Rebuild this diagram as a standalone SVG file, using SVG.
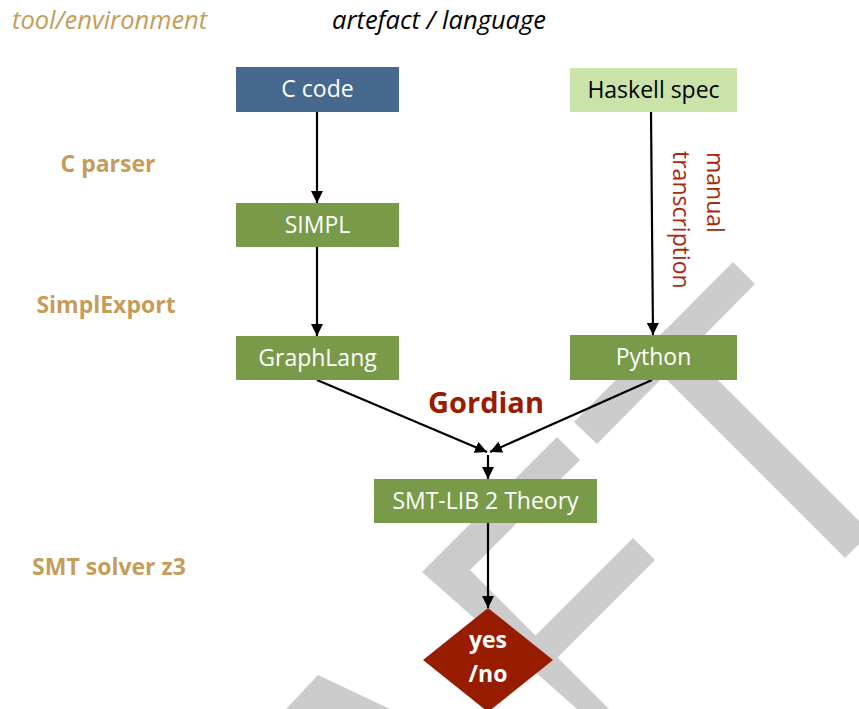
<svg xmlns="http://www.w3.org/2000/svg" width="859" height="709" viewBox="0 0 859 709">
  <style>
    .box text { font-family: "Open Sans", "Noto Sans", "Liberation Sans", sans-serif; font-size: 23px; text-anchor: middle; }
    .light { fill: #ffffff; }
    .dark { fill: #000000; }
    .tool { font-family: "Open Sans", "Noto Sans", "Liberation Sans", sans-serif; font-size: 23px; font-weight: bold; fill: #C69C5B; text-anchor: middle; }
    .head { font-family: "Open Sans", "Noto Sans", "Liberation Sans", sans-serif; font-size: 25.5px; font-style: italic; }
    .note { font-family: "Open Sans", "Noto Sans", "Liberation Sans", sans-serif; font-size: 23px; fill: #A62A0C; }
    .wm { fill: #CCCCCC; }
    .edge { stroke: #000000; stroke-width: 2.2; fill: none; marker-end: url(#arrow); }
    .blue { fill: #46698D; }
    .green { fill: #789A49; }
    .pale { fill: #CAE3A9; }
  </style>
  <defs>
    <marker id="arrow" markerUnits="userSpaceOnUse" markerWidth="12" markerHeight="12" refX="12" refY="6" orient="auto">
      <path d="M0,0 L12,6 L0,12 z" fill="#000000"/>
    </marker>
  </defs>

  <rect width="859" height="709" fill="#ffffff"/>

  <!-- grey background strokes -->
  <g id="backdrop">
    <polygon class="wm" points="733,262 755,284 597,444 574,422"/>
    <polygon class="wm" points="641,354 666.5,328.5 870.5,532.5 845,558"/>
    <polygon class="wm" points="557,437 580,460 470,570 609,709 577,709 422,572"/>
    <polygon class="wm" points="633,538 655,560 542,673 520,651"/>
    <polygon class="wm" points="286,709 318,675 390,709"/>
  </g>

  <!-- column headings -->
  <text class="head" x="12" y="29" fill="#C69C5B">tool/environment</text>
  <text class="head" x="332" y="29" fill="#000000">artefact / language</text>

  <!-- tool labels -->
  <text class="tool" x="108" y="172">C parser</text>
  <text class="tool" x="106" y="313">SimplExport</text>
  <text class="tool" x="109" y="575">SMT solver z3</text>

  <!-- connectors -->
  <g id="connectors">
    <line class="edge" x1="317" y1="112" x2="317" y2="203"/>
    <line class="edge" x1="317" y1="247" x2="317" y2="336"/>
    <line class="edge" x1="651" y1="112" x2="653" y2="335"/>
    <line class="edge" x1="317" y1="380" x2="487" y2="452"/>
    <line class="edge" x1="652" y1="380" x2="490" y2="452"/>
    <line class="edge" x1="488" y1="455" x2="488" y2="479"/>
    <line class="edge" x1="488" y1="523" x2="488" y2="608"/>
  </g>

  <!-- edge annotations -->
  <text class="note" transform="translate(707,152) rotate(90)">manual</text>
  <text class="note" transform="translate(673,151) rotate(90)">transcription</text>
  <text x="486" y="413" font-family="Open Sans, Noto Sans, Liberation Sans, sans-serif" font-size="29" font-weight="bold" fill="#9A1C00" text-anchor="middle">Gordian</text>

  <!-- nodes -->
  <g id="c-code" class="box">
    <rect class="blue" x="236" y="67" width="163" height="45"/>
    <text class="light" x="317.5" y="97">C code</text>
  </g>
  <g id="haskell-spec" class="box">
    <rect class="pale" x="570" y="68" width="167" height="44"/>
    <text class="dark" x="653.5" y="98">Haskell spec</text>
  </g>
  <g id="simpl" class="box">
    <rect class="green" x="236" y="203" width="163" height="44"/>
    <text class="light" x="317.5" y="233">SIMPL</text>
  </g>
  <g id="graphlang" class="box">
    <rect class="green" x="236" y="336" width="163" height="44"/>
    <text class="light" x="317.5" y="366">GraphLang</text>
  </g>
  <g id="python" class="box">
    <rect class="green" x="570" y="335" width="167" height="45"/>
    <text class="light" x="653.5" y="365">Python</text>
  </g>
  <g id="smt-lib" class="box">
    <rect class="green" x="374" y="479" width="223" height="44"/>
    <text class="light" x="485.5" y="509">SMT-LIB 2 Theory</text>
  </g>
  <g id="verdict" class="box">
    <polygon points="488,608 553,660 488,712 423,660" fill="#981C00"/>
    <text class="light" x="488" y="648" font-weight="bold">yes</text>
    <text class="light" x="488" y="682" font-weight="bold">/no</text>
  </g>
</svg>
